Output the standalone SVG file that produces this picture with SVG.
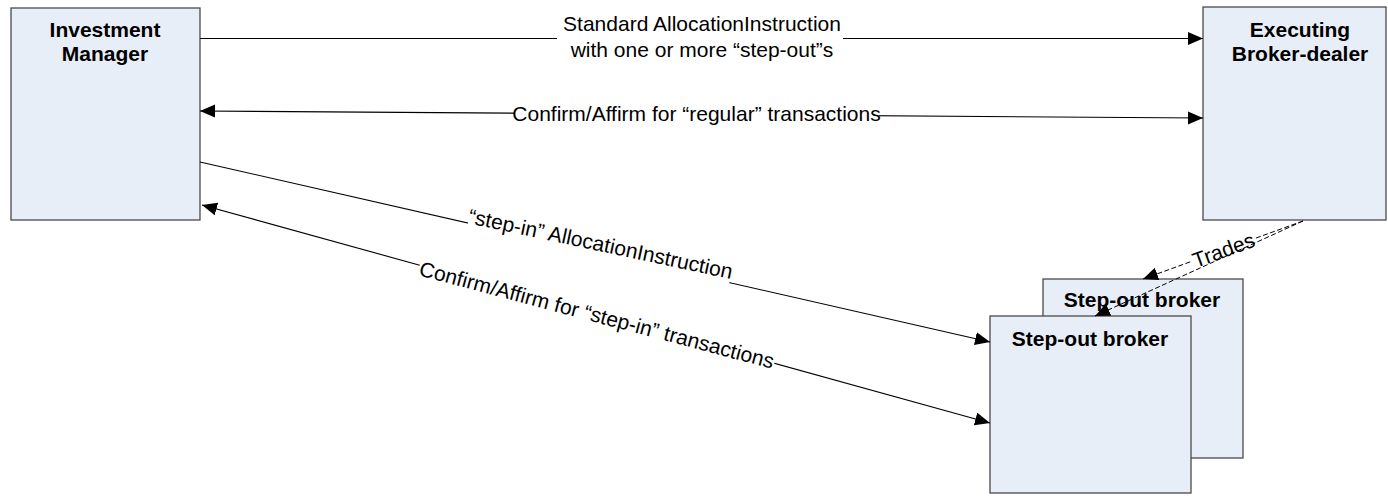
<svg xmlns="http://www.w3.org/2000/svg" width="1388" height="496" viewBox="0 0 1388 496">
<style>
.box{fill:#E8EEF8;stroke:#4a4a4a;stroke-width:1.3}
.t{font-family:"Liberation Sans",Arial,sans-serif;font-size:21px;fill:#000;text-anchor:middle}
.b{font-weight:bold}
.ln{stroke:#000;stroke-width:1.1;fill:none}
.ds{stroke:#000;stroke-width:1;fill:none;stroke-dasharray:5,2.5}
.bg{fill:#fff}
</style>
<defs>
<marker id="ah" markerUnits="userSpaceOnUse" markerWidth="16" markerHeight="14" refX="15" refY="6.5" orient="auto-start-reverse">
<path d="M0,0 L15,6.5 L0,13 z" fill="#000"/>
</marker>
</defs>
<rect width="1388" height="496" fill="#fff"/>
<g id="investment-manager">
<rect class="box" x="11" y="8" width="189" height="212"/>
<text class="t b" x="105" y="37">Investment</text>
<text class="t b" x="105" y="61">Manager</text>
</g>
<g id="executing-broker-dealer">
<rect class="box" x="1203" y="7" width="183" height="213"/>
<text class="t b" x="1300" y="37">Executing</text>
<text class="t b" x="1300" y="61">Broker-dealer</text>
</g>
<g id="step-out-broker-back">
<rect class="box" x="1043" y="279" width="200" height="179"/>
<text class="t b" x="1142" y="307">Step-out broker</text>
</g>
<g id="step-out-broker-front">
<rect class="box" x="990" y="316" width="201" height="177"/>
<text class="t b" x="1090" y="346">Step-out broker</text>
</g>
<g id="connectors">
<line class="ln" x1="200" y1="38.5" x2="1203" y2="38.5" marker-end="url(#ah)"/>
<rect class="bg" x="557" y="11" width="286" height="54"/>
<text class="t" x="702" y="31">Standard AllocationInstruction</text>
<text class="t" x="702" y="57">with one or more “step-out”s</text>

<line class="ln" x1="200" y1="111" x2="1203" y2="118" marker-start="url(#ah)" marker-end="url(#ah)"/>
<rect class="bg" x="514" y="103" width="365" height="24"/>
<text class="t" x="696.5" y="121">Confirm/Affirm for “regular” transactions</text>

<line class="ln" x1="200" y1="162" x2="990" y2="342" marker-end="url(#ah)"/>
<g transform="translate(599,251) rotate(12)">
<rect class="bg" x="-134" y="-18" width="268" height="28"/>
<text class="t" x="0" y="0">“step-in” AllocationInstruction</text>
</g>

<line class="ln" x1="202" y1="205" x2="990" y2="423" marker-start="url(#ah)" marker-end="url(#ah)"/>
<g transform="translate(595,322) rotate(14.8)">
<rect class="bg" x="-184" y="-18" width="368" height="25"/>
<text class="t" x="0" y="0">Confirm/Affirm for “step-in” transactions</text>
</g>

<line class="ds" x1="1303" y1="221" x2="1143" y2="279" marker-end="url(#ah)"/>
<g transform="translate(1226,257) rotate(-20)">
<rect class="bg" x="-34" y="-16" width="68" height="20"/>
<text class="t" x="0" y="0">Trades</text>
</g>
<line class="ds" x1="1303" y1="221" x2="1095" y2="316" marker-end="url(#ah)"/>
</g>
</svg>
